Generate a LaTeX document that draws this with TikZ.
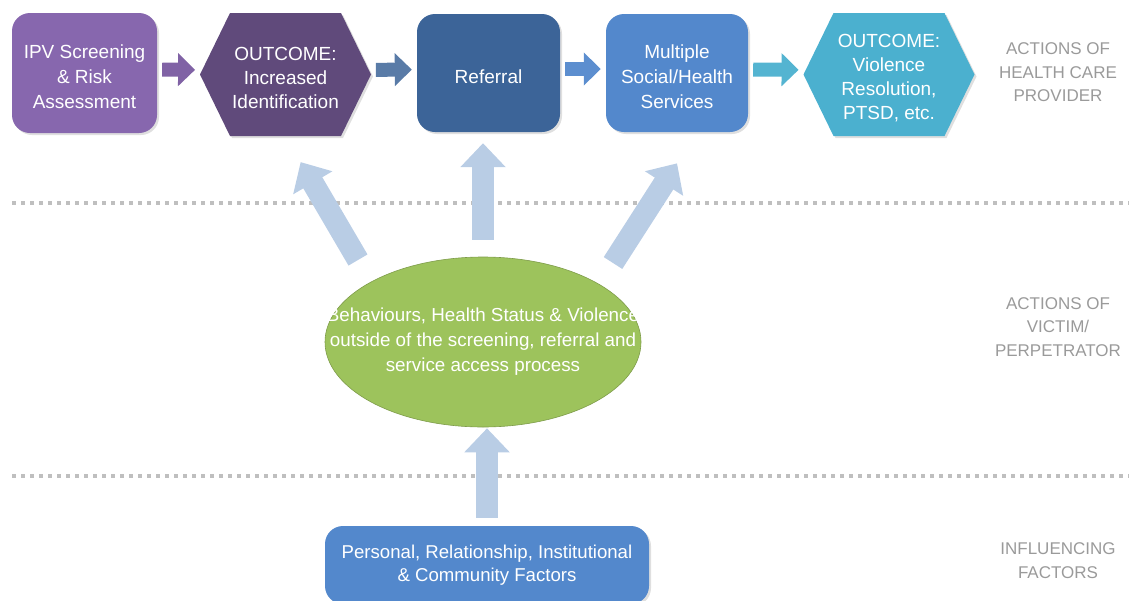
\documentclass[tikz,border=0pt]{standalone}
\usepackage{fontspec}
\setmainfont{Liberation Sans}
\usetikzlibrary{shapes.geometric,shapes.symbols,arrows.meta,shadows,calc}

\definecolor{lilac}{HTML}{8767AE}
\definecolor{plum}{HTML}{604A7B}
\definecolor{navy}{HTML}{3C6498}
\definecolor{midblue}{HTML}{5388CC}
\definecolor{teal}{HTML}{4BB0CF}
\definecolor{leaf}{HTML}{9DC35C}
\definecolor{sky}{HTML}{B9CDE5}
\definecolor{labelgrey}{HTML}{9A9A9A}
\definecolor{dotgrey}{HTML}{BFBFBF}

% taller first line, so the text sits a little below the middle
\newcommand{\txtlift}{\rule{0pt}{21pt}}

\begin{document}
\begin{tikzpicture}[x=1pt, y=-1pt,
    box/.style={rounded corners=18pt, inner sep=0pt, text=white, align=center,
        font=\fontsize{19}{25}\selectfont,
        drop shadow={opacity=0.25, shadow xshift=2pt, shadow yshift=-2pt}},
    hexa/.style={signal, signal to=west and east, signal pointer angle=128,
        minimum width=171pt, minimum height=123pt, inner sep=0pt, text=white,
        align=center, font=\fontsize{19}{24}\selectfont,
        drop shadow={opacity=0.25, shadow xshift=2pt, shadow yshift=-2pt}},
    flowarr/.style={line width=14pt, -{Triangle[width=32pt,length=17pt]},
        shorten <=5pt, shorten >=5pt, transform canvas={yshift=4pt}},
    uparr/.style={draw=sky, line width=22pt, -{Triangle[width=44pt,length=24pt]}},
    side/.style={text=labelgrey, align=center, font=\fontsize{17}{23.5}\selectfont},
    sep/.style={draw=dotgrey, line width=4pt, dash pattern=on 4pt off 5pt}]
    \useasboundingbox (0,0) rectangle (1129,600);

    % Separator lines between the three rows
    \draw[sep] (12,203) -- (1129,203);
    \draw[sep] (12,476) -- (1129,476);

    % Row of health care provider actions
    \node[box, fill=lilac, minimum width=145pt, minimum height=120pt] (ipv) at (84.5,73)
        {\txtlift IPV Screening\\\& Risk\\Assessment};
    \node[hexa, fill=plum] (outc1) at (285.5,74.5) {\txtlift OUTCOME:\\Increased\\Identification};
    \node[box, fill=navy, minimum width=143pt, minimum height=118pt] (ref) at (488.5,73) {\txtlift Referral};
    \node[box, fill=midblue, minimum width=142pt, minimum height=118pt] (serv) at (677,73)
        {\txtlift Multiple\\Social/Health\\Services};
    \node[hexa, fill=teal] (outc2) at (889,74.5) {\txtlift OUTCOME:\\Violence\\Resolution,\\PTSD, etc.};

    \draw[flowarr, draw=lilac!95!black] (ipv) -- (outc1);
    \draw[flowarr, draw=navy!85!white] (outc1) -- (ref);
    \draw[flowarr, draw=midblue!95!white] (ref) -- (serv);
    \draw[flowarr, draw=teal!95!white] (serv) -- (outc2);

    % Victim / perpetrator and influencing factors
    \node[ellipse, fill=leaf, draw=leaf!80!black, line width=0.6pt, inner xsep=-50pt, inner ysep=20pt,
        minimum width=316pt, minimum height=170pt, text=white, align=center,
        font=\fontsize{18.8}{25}\selectfont] (beh) at (483,342)
        {Behaviours, Health Status \& Violence\\outside of the screening, referral and\\service access process};
    \node[box, fill=midblue, minimum width=324pt, minimum height=78pt,
        font=\fontsize{18.6}{23.5}\selectfont] (fac) at (487,565)
        {Personal, Relationship, Institutional\\\& Community Factors};

    % Influence arrows
    \coordinate (lt) at (358,260);
    \coordinate (rt) at (613,263);
    \draw[uparr, shorten >=30pt] (lt) -- (outc1.south);
    \draw[uparr, shorten <=17pt, shorten >=11pt] (beh.north) -- (beh.north |- ref.south);
    \draw[uparr, shorten >=37pt] (rt) -- ($(serv.south)+(20,0)$);
    \draw[uparr, shorten <=8pt, shorten >=1pt] (fac.north) -- (fac.north |- beh.south);

    % Row labels
    \node[side] (hcp) at (1058,72.5) {ACTIONS OF\\HEALTH CARE\\PROVIDER};
    \node[side] (vic) at (1058,327) {ACTIONS OF\\VICTIM/\\PERPETRATOR};
    \node[side] (inf) at (1058,560.5) {INFLUENCING\\FACTORS};
\end{tikzpicture}
\end{document}
